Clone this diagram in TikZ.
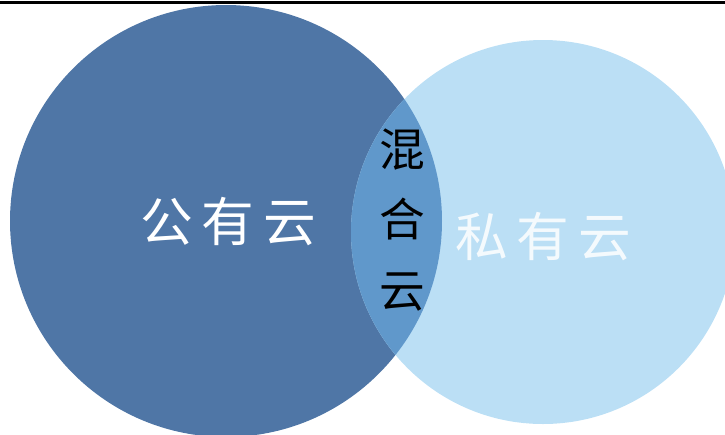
\documentclass[tikz,border=0pt]{standalone}
\usepackage{fontspec}
\newfontfamily\cjk{Noto Sans CJK SC}
\definecolor{publicBlue}{RGB}{79, 118, 166}
\definecolor{privateBlue}{RGB}{187, 223, 245}
\definecolor{hybridBlue}{RGB}{96, 152, 203}
\usetikzlibrary{positioning}

\begin{document}
\begin{tikzpicture}[x=0.02cm,y=-0.02cm,
                cloud/.style={font=\cjk\fontsize{30}{36}\selectfont,text=white,inner sep=0pt},
                mixed/.style={font=\cjk\fontsize{26}{40}\selectfont,text=black,align=center,inner sep=0pt}
            ]
                \useasboundingbox (0,0) rectangle (725,434);
                \clip (0,0) rectangle (725,434);
                % circles
                \fill[publicBlue] (226,221) circle (216);
                \fill[privateBlue] (543,232) circle (192);
                \begin{scope}
                    \clip (226,221) circle (216);
                    \fill[hybridBlue] (543,232) circle (192);
                \end{scope}
                \draw[line width=0.06cm] (0,2) -- (725,2);
                % labels
                \node[cloud] (public) at (228,222) {公\,有\,云};
                \node[cloud,text opacity=0.85] (private) at (543,237) {私\,有\,云};
                \node[mixed] (hybrid) at (402,220) {混\\合\\云};
            \end{tikzpicture}
\end{document}
